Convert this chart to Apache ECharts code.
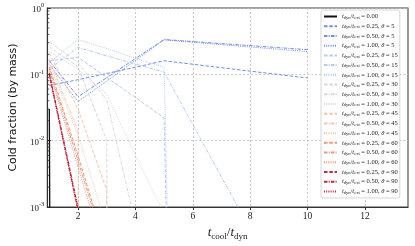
<!DOCTYPE html>
<html><head><meta charset="utf-8">
<script src="https://cdn.jsdelivr.net/npm/echarts@6/dist/echarts.min.js"></script>
<style>html,body{margin:0;padding:0;background:#fff}#c{width:415px;height:246px}</style>
</head><body><div id="c"></div>
<script>
// x positions (t_cool / t_dyn)
const X = [1, 2, 3, 4, 5, 10];
// tick labels
const yTicks = [0.001, 0.01, 0.1, 1];
const xTicks = [2, 4, 6, 8, 10, 12];
// cold fraction values (0 = no cold gas)
const s000 = [0.030, 0, 0, 0, 0, 0];
const s5_025 = [0.068, 0.083, 0.103, 0.128, 0.160, 0.088];
const s5_050 = [0.160, 0.046, 0.089, 0.173, 0.335, 0.235];
const s5_100 = [0.140, 0.039, 0.079, 0.162, 0.330, 0.220];
const s15_025 = [0.160, 0.180, 0.090, 0.045, 0.022, 0];
const s15_050 = [0.120, 0.255, 0.190, 0.143, 0.108, 0.000012];
const s15_100 = [0.150, 0.335, 0.245, 0.175, 0.128, 0];
const s30_025 = [0.260, 0.130, 0.010, 0, 0, 0];
const s30_050 = [0.310, 0.150, 0.041, 0.00056, 0, 0];
const s30_100 = [0.220, 0.120, 0.050, 0.006, 0.0008, 0];
const s45_025 = [0.210, 0.030, 0.0018, 0, 0, 0];
const s45_050 = [0.170, 0.014, 0, 0, 0, 0];
const s45_100 = [0.150, 0.012, 0.0005, 0, 0, 0];
const s60_025 = [0.130, 0.006, 0.00022, 0, 0, 0];
const s60_050 = [0.120, 0.005, 0.0002, 0, 0, 0];
const s60_100 = [0.110, 0.004, 0.00015, 0, 0, 0];
const s90_025 = [0.100, 0.0009, 0, 0, 0, 0];
const s90_050 = [0.105, 0.0010, 0, 0, 0, 0];
const s90_100 = [0.095, 0.00085, 0, 0, 0, 0];

const thetas = [5, 15, 30, 45, 60, 90];
const ratios = ['0.25', '0.50', '1.00'];
const thetaColors = {5: '#6383e6', 15: '#abc5f8', 30: '#d4d4d4', 45: '#f6c0a6', 60: '#ec8b70', 90: '#b5152f'};
const ratioDash = {'0.25': [3.5, 1.8], '0.50': [3.5, 1.2, 1, 1.2], '1.00': [1, 1.2]};
const table = {
  '5': [s5_025, s5_050, s5_100], '15': [s15_025, s15_050, s15_100], '30': [s30_025, s30_050, s30_100],
  '45': [s45_025, s45_050, s45_100], '60': [s60_025, s60_050, s60_100], '90': [s90_025, s90_050, s90_100]
};
const TINY = 1e-100;
function pts(arr) { return X.map((x, i) => [x, arr[i] > 0 ? arr[i] : TINY]); }

const series = [];
const legendNames = [];
series.push({name: '0.00', type: 'line', data: pts(s000), symbol: 'none',
  lineStyle: {color: '#111', width: 1.3, type: 'solid'}, itemStyle: {color: '#111'}, z: 5});
legendNames.push('0.00');
thetas.forEach(th => {
  ratios.forEach((r, k) => {
    const nm = r + '|' + th;
    legendNames.push(nm);
    series.push({name: nm, type: 'line', data: pts(table[th][k]), symbol: 'none',
      lineStyle: {color: thetaColors[th], width: 1, type: ratioDash[r], opacity: 0.9},
      itemStyle: {color: thetaColors[th]}});
  });
});
// minor log ticks on y axis
const minorVals = [];
[0.001, 0.01, 0.1].forEach(d => { for (let m = 2; m <= 9; m++) minorVals.push(d * m); });
const XMIN = 0.93, XMAX = 13.5;
series.push({type: 'custom', silent: true, z: 10, clip: false,
  data: minorVals.map(v => [XMIN, v]),
  renderItem: (params, api) => {
    const p = api.coord([api.value(0), api.value(1)]);
    return {type: 'line', shape: {x1: p[0], y1: p[1], x2: p[0] + 2, y2: p[1]}, style: {stroke: '#333', lineWidth: 0.8}};
  }});

const chart = echarts.init(document.getElementById('c'), null, {renderer: 'canvas'});
chart.setOption({
  animation: false,
  grid: {left: 45, right: 7, top: 8, bottom: 36, show: true, borderColor: '#444', borderWidth: 1.1},
  legend: {
    data: legendNames, orient: 'vertical', left: 321, top: 10, padding: [3, 2, 3, 2],
    itemWidth: 13, itemHeight: 7, itemGap: 2.72, backgroundColor: 'rgba(255,255,255,0.9)',
    borderColor: '#cccccc', borderWidth: 0.8, borderRadius: 2,
    itemStyle: {opacity: 0},
    formatter: nm => {
      const head = '{i|t}{s|dyn}{n|/}{i|t}{s|ext}{n| = ';
      if (nm === '0.00') return head + '0.00}';
      const [r, th] = nm.split('|');
      return head + r + ', }{i|θ}{n| = ' + th + '}';
    },
    textStyle: {
      fontFamily: 'Liberation Serif', fontSize: 6.5, color: '#222', lineHeight: 7,
      rich: {
        i: {fontFamily: 'Liberation Serif', fontStyle: 'italic', fontSize: 6.5, lineHeight: 7, verticalAlign: 'middle'},
        s: {fontFamily: 'Liberation Serif', fontSize: 4.5, lineHeight: 7, verticalAlign: 'bottom'},
        n: {fontFamily: 'Liberation Serif', fontSize: 6.5, lineHeight: 7, verticalAlign: 'middle'}
      }
    }
  },
  xAxis: {
    type: 'value', min: XMIN, max: XMAX,
    axisLine: {show: true, lineStyle: {color: '#333', width: 1.1}},
    axisTick: {show: true, inside: false, length: 3, lineStyle: {color: '#333'}, customValues: xTicks},
    axisLabel: {customValues: xTicks, fontFamily: 'Liberation Serif', fontSize: 9.5, color: '#222', margin: 4},
    splitLine: {show: true, lineStyle: {color: '#bbbbbb', type: [2, 2], width: 0.8}},
    name: '{i|t}{s|cool}{n|/}{i|t}{s|dyn}', nameLocation: 'middle', nameGap: 18,
    nameTextStyle: {rich: {
      i: {fontFamily: 'Liberation Serif', fontStyle: 'italic', fontSize: 13, lineHeight: 16, color: '#222', verticalAlign: 'middle'},
      s: {fontFamily: 'Liberation Serif', fontSize: 9, lineHeight: 16, color: '#222', verticalAlign: 'bottom'},
      n: {fontFamily: 'Liberation Serif', fontSize: 13, lineHeight: 16, color: '#222', verticalAlign: 'middle'}
    }}
  },
  yAxis: {
    type: 'log', logBase: 10, min: 0.001, max: 1,
    axisLine: {show: true, lineStyle: {color: '#333', width: 1.1}},
    axisTick: {show: true, inside: true, length: 3.5, lineStyle: {color: '#333'}},
    axisLabel: {
      formatter: v => { const e = Math.round(Math.log10(v)); return '{b|10}{e|' + String(e) + '}'; },
      rich: {
        b: {fontFamily: 'Liberation Serif', fontSize: 9, color: '#222', lineHeight: 12, verticalAlign: 'bottom'},
        e: {fontFamily: 'Liberation Serif', fontSize: 6.5, color: '#222', lineHeight: 12, verticalAlign: 'top'}
      }, margin: 3
    },
    splitLine: {show: true, lineStyle: {color: '#bbbbbb', type: [2, 2], width: 0.8}},
    name: 'Cold fraction (by mass)', nameLocation: 'middle', nameGap: 28,
    nameTextStyle: {fontFamily: 'DejaVu Sans', fontSize: 11, color: '#111'}
  },
  series: series
});
</script></body></html>
